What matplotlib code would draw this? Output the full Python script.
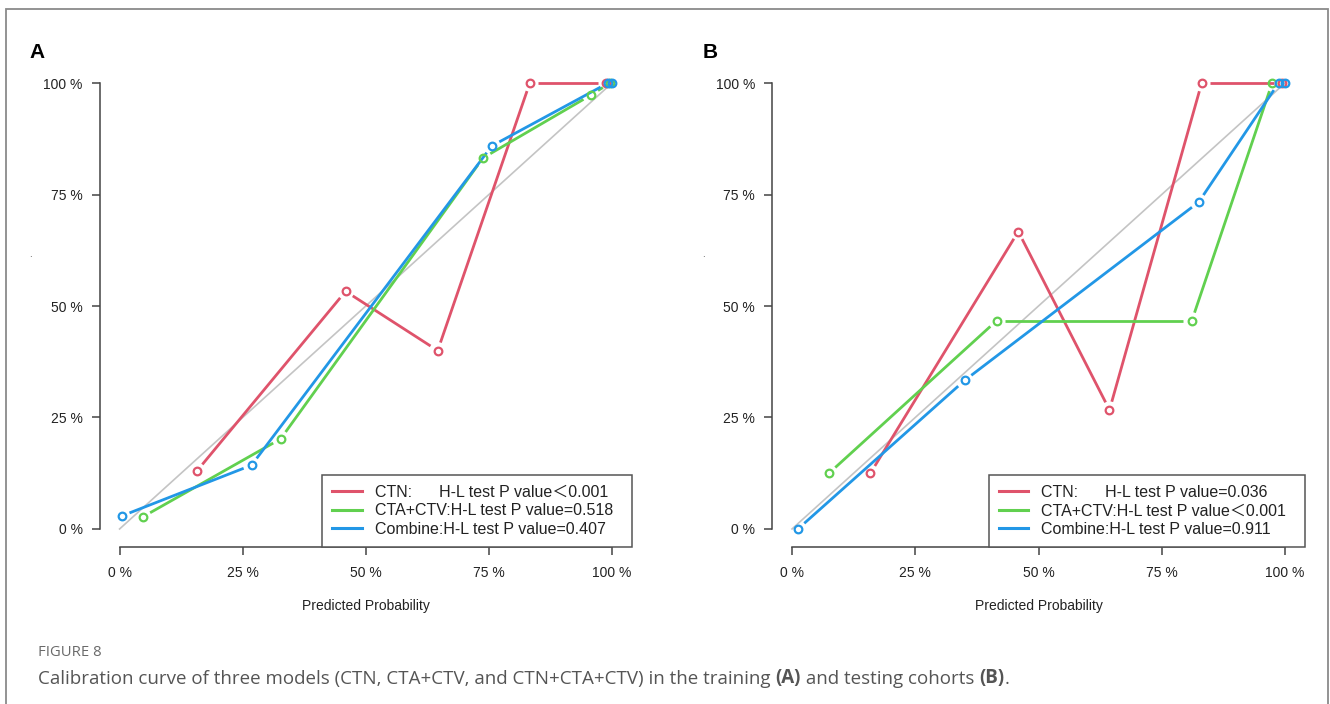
import numpy as np
import matplotlib
matplotlib.use("Agg")
import matplotlib.pyplot as plt
from matplotlib.lines import Line2D
from matplotlib.patches import Rectangle
from matplotlib.text import Annotation

# ---------------- data ----------------
ticks = [0, 0.25, 0.5, 0.75, 1.0]
tick_labels = ["0 %", "25 %", "50 %", "75 %", "100 %"]

# Panel A (training)
a_ctn_x = [0.157, 0.459, 0.646, 0.833, 0.988]
a_ctn_y = [0.130, 0.533, 0.400, 1.000, 1.000]
a_cta_x = [0.047, 0.327, 0.738, 0.957, 0.996]
a_cta_y = [0.027, 0.202, 0.832, 0.973, 1.000]
a_com_x = [0.004, 0.268, 0.756, 0.992, 1.000]
a_com_y = [0.029, 0.143, 0.859, 1.000, 1.000]
a_labels = ["CTN:      H-L test P value\uff1c0.001",
            "CTA+CTV:H-L test P value=0.518",
            "Combine:H-L test P value=0.407"]

# Panel B (testing)
b_ctn_x = [0.159, 0.459, 0.644, 0.831, 0.994]
b_ctn_y = [0.125, 0.667, 0.267, 1.000, 1.000]
b_cta_x = [0.075, 0.415, 0.811, 0.974]
b_cta_y = [0.125, 0.467, 0.467, 1.000]
b_com_x = [0.012, 0.350, 0.825, 0.987, 1.000]
b_com_y = [0.000, 0.333, 0.733, 1.000, 1.000]
b_labels = ["CTN:      H-L test P value=0.036",
            "CTA+CTV:H-L test P value\uff1c0.001",
            "Combine:H-L test P value=0.911"]

colors = ["#DF536B", "#61D04F", "#2297E6"]

caption_parts = ["Calibration curve of three models (CTN, CTA+CTV, and CTN+CTA+CTV) in the training ",
                 "(A)", " and testing cohorts ", "(B)", "."]
caption_weights = ["normal", "bold", "normal", "bold", "normal"]

# ---------------- figure ----------------
W, H = 1330, 704
fig = plt.figure(figsize=(W / 100, H / 100), dpi=100)
fig.patch.set_facecolor("white")
FONT = ["Liberation Sans", "Noto Sans CJK SC", "DejaVu Sans"]
plt.rcParams["font.family"] = FONT


def axrect(l, r, t, b):
    return [l / W, 1 - b / H, (r - l) / W, (b - t) / H]


axA = fig.add_axes(axrect(99.9, 631.7, 65.2, 546.8))
axB = fig.add_axes(axrect(772.3, 1304.7, 65.2, 546.8))

AX_COL = "#444444"
TXT_COL = "#222222"


def gapped(ax, xs, ys, color, gap=8.5, lw=2.0):
    pts = ax.transData.transform(np.column_stack([xs, ys]))
    inv = ax.transData.inverted()
    for i in range(len(pts) - 1):
        p, q = pts[i], pts[i + 1]
        d = q - p
        L = np.hypot(*d)
        if L > 2 * gap + 1:
            u = d / L
            seg = inv.transform(np.vstack([p + u * gap, q - u * gap]))
            ax.plot(seg[:, 0], seg[:, 1], color=color, lw=lw,
                    solid_capstyle="butt", zorder=3)
    ax.plot(xs, ys, "o", ls="none", mfc="none", mec=color, ms=5.5, mew=1.6,
            zorder=4)


def setup(ax, series, labels):
    ax.set_xlim(-0.04, 1.04)
    ax.set_ylim(-0.04, 1.04)
    for s in ["top", "right"]:
        ax.spines[s].set_visible(False)
    for s in ["left", "bottom"]:
        ax.spines[s].set_bounds(0, 1)
        ax.spines[s].set_color(AX_COL)
        ax.spines[s].set_linewidth(1.1)
    ax.set_xticks(ticks)
    ax.set_xticklabels(tick_labels)
    ax.set_yticks(ticks)
    ax.set_yticklabels(tick_labels)
    ax.tick_params(axis="both", colors=AX_COL, labelcolor=TXT_COL,
                   labelsize=10, length=5.5, width=1.1)
    ax.tick_params(axis="y", pad=7)
    ax.tick_params(axis="x", pad=8)
    ax.patch.set_alpha(0)
    ax.plot([0, 1], [0, 1], color="#C4C4C4", lw=1.2, zorder=2)
    for (xs, ys), c in zip(series, colors):
        gapped(ax, xs, ys, c)
    ax.set_xlabel("Predicted Probability", fontsize=10, color=TXT_COL,
                  va="center")
    ax.xaxis.set_label_coords(0.5, (546.8 - 606) / 481.6)
    handles = [Line2D([0], [0], color=c, lw=2.2) for c in colors]
    leg = ax.legend(handles, [l + "  " for l in labels], loc="lower right",
                    bbox_to_anchor=(1, 0), borderaxespad=0,
                    frameon=True, fancybox=False, framealpha=1,
                    edgecolor="#555555", handlelength=1.85,
                    handletextpad=0.8, labelspacing=0.22, borderpad=0.62,
                    prop={"family": FONT, "size": 11.5})
    leg.get_frame().set_linewidth(1.1)
    for t in leg.get_texts():
        t.set_color(TXT_COL)


setup(axA, [(a_ctn_x, a_ctn_y), (a_cta_x, a_cta_y), (a_com_x, a_com_y)],
      a_labels)
setup(axB, [(b_ctn_x, b_ctn_y), (b_cta_x, b_cta_y), (b_com_x, b_com_y)],
      b_labels)

# panel letters
fig.text(29 / W, 1 - 52.5 / H, "A", fontsize=15, fontweight="bold",
         color="black", ha="left", va="center", family=FONT)
fig.text(703 / W, 1 - 52.5 / H, "B", fontsize=15, fontweight="bold",
         color="black", ha="left", va="center", family=FONT)
# stray y-label dots
fig.text(30 / W, 1 - 254 / H, ".", fontsize=7, color="#444444",
         ha="center", va="center")
fig.text(703 / W, 1 - 254 / H, ".", fontsize=7, color="#444444",
         ha="center", va="center")

# outer border
fig.add_artist(Rectangle((6 / W, -0.1), 1322 / W, 0.1 + (H - 9) / H,
                         transform=fig.transFigure, fill=False,
                         ec="#8a8a8a", lw=1.3))

# caption
CAP = ["Open Sans", "DejaVu Sans"]
fig.text(38 / W, 1 - 652 / H, "FIGURE 8", fontsize=10.7, color="#6a6a6a",
         ha="left", va="center", family=CAP)
anchor = fig.text(38 / W, 1 - 688 / H, caption_parts[0], fontsize=13.5,
                  color="#555555", ha="left", va="bottom", family=CAP,
                  fontweight=caption_weights[0])
for txt, wt in zip(caption_parts[1:], caption_weights[1:]):
    ann = Annotation(txt, xy=(1, 0), xycoords=anchor, fontsize=13.5,
                     color="#555555", fontweight=wt, family=CAP,
                     ha="left", va="bottom")
    fig.add_artist(ann)
    anchor = ann

fig.savefig("out.png", dpi=100, facecolor="white")
